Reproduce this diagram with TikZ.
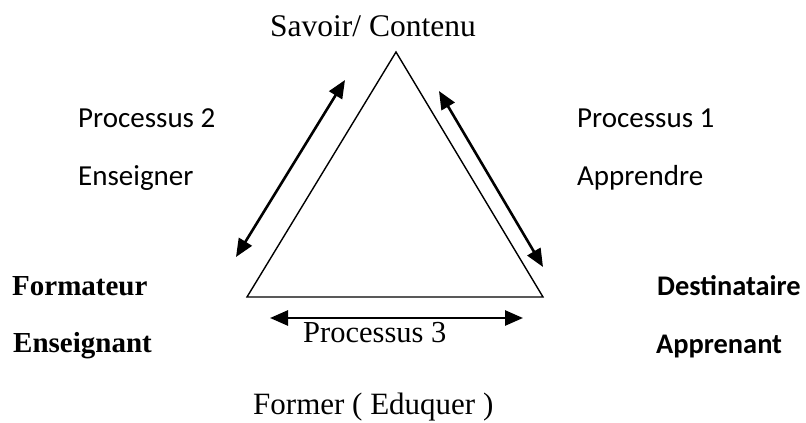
\documentclass[tikz,border=0pt]{standalone}
\usepackage{fontspec}
\setmainfont{Liberation Serif}
\newfontfamily\calfont{Carlito}
\usetikzlibrary{arrows.meta}

\tikzset{
  lbl/.style={anchor=base west, inner sep=0pt, font=\fontsize{30.5}{36}\selectfont},
  calbl/.style={anchor=base west, inner sep=0pt, font=\calfont\fontsize{29}{35}\selectfont},
  boldlbl/.style={anchor=base west, inner sep=0pt, font=\bfseries\fontsize{29}{35}\selectfont},
  calbold/.style={anchor=base west, inner sep=0pt, font=\calfont\bfseries\fontsize{28.4}{34}\selectfont},
  tip/.tip={Triangle[length=18pt,width=15pt]},
  link/.style={line width=2.6pt, tip-tip}
}

\begin{document}
\begin{tikzpicture}[x=1pt, y=-1pt]
    \useasboundingbox (0,0) rectangle (806,423);

    % the triangle
    \coordinate (apex) at (396,52);
    \coordinate (lcorner) at (247,297);
    \coordinate (rcorner) at (543,297);
    \draw[line width=1.4pt, line join=miter] (apex) -- (lcorner) -- (rcorner) -- cycle;

    % the three processes
    \coordinate (p2a) at (236,257);
    \coordinate (p2b) at (345,80);
    \coordinate (p1a) at (439,91);
    \coordinate (p1b) at (543,267);
    \coordinate (p3a) at (270,318);
    \coordinate (p3b) at (523,318);
    \draw[link] (p2a) -- (p2b);
    \draw[link] (p1a) -- (p1b);
    \draw[link] (p3a) -- (p3b);

    % labels
    \node[lbl, font=\fontsize{31.5}{36}\selectfont] (savoir) at (270,36) {Savoir/ Contenu};
    \node[calbl] (proc2) at (78,127) {Processus 2};
    \node[calbl] (enseigner) at (78,185) {Enseigner};
    \node[calbl] (proc1) at (577,127) {Processus 1};
    \node[calbl] (apprendre) at (577,185) {Apprendre};
    \node[boldlbl] (formateur) at (12,295) {Formateur};
    \node[boldlbl] (enseignant) at (13,352) {Enseignant};
    \node[calbold] (destinataire) at (657,295) {Destinataire};
    \node[calbold] (apprenant) at (656,353) {Apprenant};
    \node[lbl] (proc3) at (303,342) {Processus 3};
    \node[lbl, font=\fontsize{31}{36}\selectfont] (former) at (253,414) {Former ( Eduquer )};
\end{tikzpicture}
\end{document}
